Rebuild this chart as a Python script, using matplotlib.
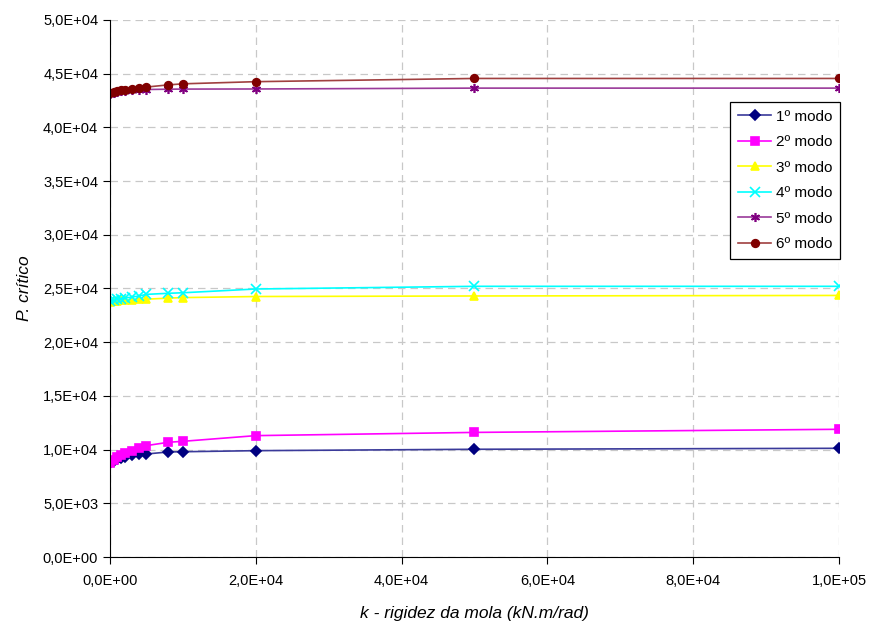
import matplotlib.pyplot as plt
from matplotlib.ticker import FuncFormatter

plt.rcParams['font.family'] = ['Liberation Sans', 'DejaVu Sans']

# rigidez da mola (kN.m/rad)
k = [0, 500, 1000, 1500, 2000, 3000, 4000, 5000, 8000, 10000, 20000, 50000, 100000]

# carga critica por modo
modo1 = [8750, 8950, 9100, 9250, 9350, 9480, 9550, 9590, 9780, 9800, 9900, 10030, 10120]
modo2 = [8750, 9030, 9280, 9500, 9650, 9870, 10120, 10370, 10680, 10770, 11300, 11600, 11890]
modo3 = [23750, 23800, 23850, 23880, 23900, 23950, 24000, 24000, 24100, 24150, 24250, 24300, 24350]
modo4 = [23800, 23900, 24000, 24050, 24100, 24200, 24300, 24450, 24550, 24600, 24950, 25200, 25200]
modo5 = [43100, 43200, 43300, 43350, 43400, 43450, 43500, 43520, 43550, 43560, 43570, 43650, 43650]
modo6 = [43150, 43250, 43350, 43450, 43500, 43600, 43700, 43750, 43950, 44050, 44250, 44550, 44550]

series = [
    (modo1, '1º modo', '#000080', '#3a3a9a', 'D', 5),
    (modo2, '2º modo', '#ff00ff', '#ff00ff', 's', 5.5),
    (modo3, '3º modo', '#ffff00', '#ffff00', '^', 6),
    (modo4, '4º modo', '#00ffff', '#00ffff', 'x', 6.5),
    (modo5, '5º modo', '#800080', '#9a3a9a', (6, 2, 0), 6.5),
    (modo6, '6º modo', '#800000', '#a04040', 'o', 5.5),
]

fig = plt.figure(figsize=(8.7, 6.26), dpi=100)
ax = fig.add_axes([0.1264, 0.1102, 0.838, 0.858])

for vals, lab, mcol, lcol, mk, ms in series:
    ax.plot(k, vals, color=lcol, lw=1.2, marker=mk, markersize=ms,
            markerfacecolor=mcol, markeredgecolor=mcol, markeredgewidth=1.2,
            label=lab)

ax.set_xlim(0, 100000)
ax.set_ylim(0, 50000)
ax.set_xticks(range(0, 100001, 20000))
ax.set_yticks(range(0, 50001, 5000))


def sci_virgula(v, pos):
    s = '%.1E' % v
    return s.replace('.', ',')


ax.xaxis.set_major_formatter(FuncFormatter(sci_virgula))
ax.yaxis.set_major_formatter(FuncFormatter(sci_virgula))
ax.tick_params(direction='out', length=5, labelsize=10.5, colors='black')
ax.tick_params(axis='x', pad=7)

ax.grid(True, color='#c8c8c8', linestyle=(0, (6, 4)), linewidth=0.9)
ax.set_axisbelow(True)
for s in ['top', 'right']:
    ax.spines[s].set_visible(False)

ax.set_xlabel('k - rigidez da mola (kN.m/rad)', fontsize=12.5, style='italic',
              labelpad=13)
ax.set_ylabel('P. crítico', fontsize=12.5, style='italic', labelpad=8)

leg = ax.legend(loc='upper right', bbox_to_anchor=(0.9655, 0.837),
                bbox_transform=fig.transFigure, borderaxespad=0,
                fontsize=11, frameon=True,
                fancybox=False, edgecolor='black', framealpha=1,
                handlelength=2.2, handletextpad=0.3, labelspacing=0.75,
                borderpad=0.5)
leg.get_frame().set_linewidth(0.9)

fig.savefig('out.png', dpi=100)
